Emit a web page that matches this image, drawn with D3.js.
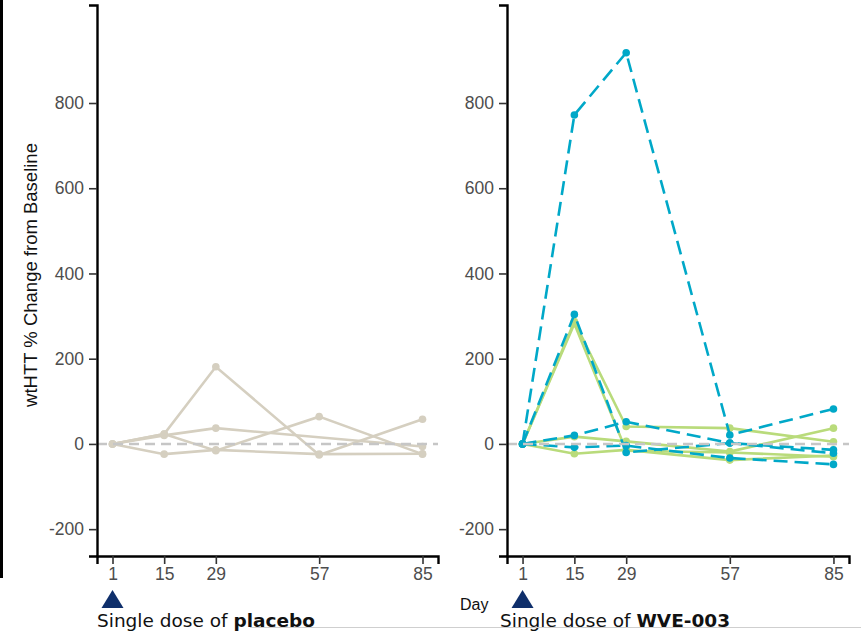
<!DOCTYPE html>
<html lang="en">
<head>
    <meta charset="UTF-8">
    <title>wtHTT % Change from Baseline</title>
    <script src="https://d3js.org/d3.v7.min.js"></script>
    <style>
        body { margin: 0; background: #fff; }
        svg { display: block; }
        .tick text { font-family: "Liberation Sans", Arial, sans-serif; font-size: 17.5px; fill: #4d4d4d; }
        .dose { font-family: "DejaVu Sans", Verdana, sans-serif; font-size: 18.5px; fill: #111; }
    </style>
</head>
<body>
<div id="chart"></div>
<script>
    // study days on the x axis
    const days = [1, 15, 29, 57, 85];
    const yTicks = [-200, 0, 200, 400, 600, 800];

    // placebo subjects (% change from baseline, null = no sample)
    const placebo1 = [0, 23, 181, -26, 58];
    const placebo2 = [0, 23, -16, 64, -24];
    const placebo3 = [0, -24, -14, -24, -23];
    const placebo4 = [0, 20, 37, null, -6];

    // WVE-003 subjects, dashed blue group
    const blue1 = [0, 772, 918, 21, 82];
    const blue2 = [0, 304, -20, 2, -14];
    const blue3 = [0, 20, 52, 2, -22];
    const blue4 = [0, -8, -4, -33, -48];

    // WVE-003 subjects, solid green group
    const green1 = [0, 287, 41, 37, 5];
    const green2 = [0, 282, -16, -20, -30];
    const green3 = [0, 17, 6, -18, 37];
    const green4 = [0, -23, -14, -38, -27];

    const width = 861, height = 634;
    const svg = d3.select("#chart").append("svg")
        .attr("width", width)
        .attr("height", height);

    const y = d3.scaleLinear().domain([-263, 1030]).range([556, 5]);

    const panels = [
        {
            x0: 97, x1: 438, labelX: 97, drug: "placebo",
            series: [
                { v: placebo1, color: "#d5cfc0", dash: null },
                { v: placebo2, color: "#d5cfc0", dash: null },
                { v: placebo3, color: "#d5cfc0", dash: null },
                { v: placebo4, color: "#d5cfc0", dash: null }
            ]
        },
        {
            x0: 507, x1: 849, labelX: 500, drug: "WVE-003",
            series: [
                { v: green1, color: "#b9db7b", dash: null },
                { v: green2, color: "#b9db7b", dash: null },
                { v: green3, color: "#b9db7b", dash: null },
                { v: green4, color: "#b9db7b", dash: null },
                { v: blue1, color: "#00a8c8", dash: "14,7" },
                { v: blue2, color: "#00a8c8", dash: "14,7" },
                { v: blue3, color: "#00a8c8", dash: "14,7" },
                { v: blue4, color: "#00a8c8", dash: "14,7" }
            ]
        }
    ];

    // black bar on the far left of the slide
    svg.append("rect").attr("x", 0).attr("y", 0).attr("width", 3).attr("height", 578).attr("fill", "#000");

    panels.forEach(p => {
        const x = d3.scaleLinear().domain([-3.2, 89.2]).range([p.x0, p.x1]);
        const g = svg.append("g");

        const line = d3.line()
            .x(d => x(d.day))
            .y(d => y(d.val));

        p.series.forEach(s => {
            const pts = days.map((d, i) => ({ day: d, val: s.v[i] })).filter(d => d.val !== null);
            g.append("path")
                .datum(pts)
                .attr("d", line)
                .attr("fill", "none")
                .attr("stroke", s.color)
                .attr("stroke-width", 2.6)
                .attr("stroke-dasharray", s.dash);
            g.selectAll(null)
                .data(pts)
                .enter().append("circle")
                .attr("cx", d => x(d.day))
                .attr("cy", d => y(d.val))
                .attr("r", 3.8)
                .attr("fill", s.color);
        });

        // zero reference
        g.append("line")
            .attr("x1", p.x0).attr("x2", p.x1)
            .attr("y1", y(0)).attr("y2", y(0))
            .attr("stroke", "#c6c6c6")
            .attr("stroke-width", 2.4)
            .attr("stroke-dasharray", "10,6");

        const yAxis = svg.append("g")
            .attr("transform", `translate(${p.x0},0)`)
            .call(d3.axisLeft(y).tickValues(yTicks).tickFormat(d => String(d)).tickSize(8).tickPadding(5));
        const xAxis = svg.append("g")
            .attr("transform", `translate(0,${y.range()[0]})`)
            .call(d3.axisBottom(x).tickValues(days).tickFormat(d => String(d)).tickSize(8).tickPadding(4));
        [yAxis, xAxis].forEach(a => {
            a.select(".domain").attr("stroke", "#000").attr("stroke-width", 2.4);
            a.selectAll(".tick line").attr("stroke", "#333").attr("stroke-width", 1.6);
        });

        // dose marker
        const tx = x(1);
        svg.append("path")
            .attr("d", `M${tx - 11},608 L${tx + 11},608 L${tx},590 Z`)
            .attr("fill", "#0f2f6b");

        const t = svg.append("text").attr("class", "dose").attr("x", p.labelX).attr("y", 627);
        t.append("tspan").text("Single dose of ");
        t.append("tspan").attr("font-weight", "bold").text(p.drug);
    });

    svg.append("text")
        .attr("transform", "translate(37,275) rotate(-90)")
        .attr("text-anchor", "middle")
        .attr("font-family", "Liberation Sans, Arial, sans-serif")
        .attr("font-size", 18.5)
        .attr("fill", "#111")
        .text("wtHTT % Change from Baseline");

    svg.append("text")
        .attr("x", 460).attr("y", 610)
        .attr("font-family", "Liberation Sans, Arial, sans-serif")
        .attr("font-size", 16)
        .attr("fill", "#111")
        .text("Day");

    svg.append("line")
        .attr("x1", 250).attr("x2", 861)
        .attr("y1", 627.5).attr("y2", 627.5)
        .attr("stroke", "#cfcfcf").attr("stroke-width", 1);
</script>
</body>
</html>
